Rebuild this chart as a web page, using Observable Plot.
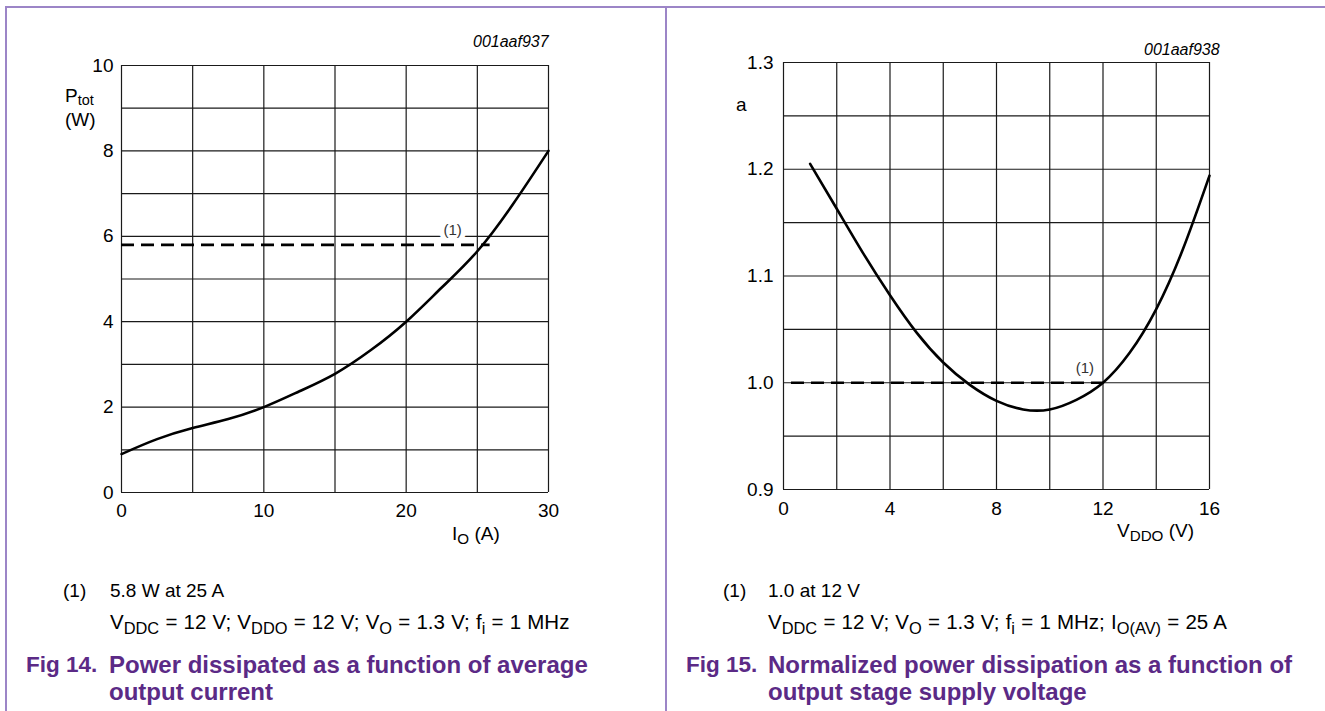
<!DOCTYPE html>
<html>
<head>
<meta charset="utf-8">
<script src="https://cdn.jsdelivr.net/npm/d3@7"></script>
<script src="https://cdn.jsdelivr.net/npm/@observablehq/plot@0.6"></script>
<style>
  body { margin: 0; background: #fff; font-family: "Liberation Sans", Arial, sans-serif; }
  #page { position: relative; width: 1325px; height: 711px; overflow: hidden; background: #fff; }
  .rule { position: absolute; background: #9c85c7; }
  .panel { position: absolute; top: 0; }
  .t { position: absolute; white-space: nowrap; color: #000; line-height: 1; }
  .t sub { font-size: 0.8em; position: relative; top: 0.3em; vertical-align: baseline; line-height: 1; }
  .t.tight sub { top: 0.22em; font-size: 0.76em; }
  .code { font-style: italic; font-size: 16px; }
  .fig { color: #5b2a86; font-weight: bold; font-size: 24px; }
  .fig.num { font-size: 22.5px; }
  .cond { word-spacing: 0.5px; }
</style>
</head>
<body>
<div id="page">
  <div class="rule" style="left:5px;top:6px;width:1320px;height:2px"></div>
  <div class="rule" style="left:5px;top:6px;width:2px;height:705px"></div>
  <div class="rule" style="left:665px;top:6px;width:2px;height:705px"></div>
  <div id="left" class="panel" style="left:0px"></div>
  <div id="right" class="panel" style="left:665px"></div>
</div>
<script>
// Fig 14: total power dissipation P_tot (W) versus average output current I_O (A)
const ioAmps    = [0, 2.5, 5, 7.5, 10, 12.5, 15, 17.5, 20, 22.5, 25, 27.5, 30];
const ptotWatts = [0.9, 1.25, 1.51, 1.72, 2.0, 2.37, 2.78, 3.33, 4.0, 4.8, 5.65, 6.75, 8.0];
const ioTickLabels   = [0, 10, 20, 30];
const ptotTickLabels = [0, 2, 4, 6, 8, 10];
const ioGrid   = [0, 5, 10, 15, 20, 25, 30];
const ptotGrid = [0, 1, 2, 3, 4, 5, 6, 7, 8, 9, 10];
// note (1): 5.8 W at 25 A
const ptotRef = 5.8;
const ptotRefSpan = [0, 25.9];
const ptotNote = {x: 23.26, y: 6.14, text: "(1)"};

// Fig 15: normalized power dissipation a versus output stage supply voltage V_DDO (V)
const vddoVolts = [1, 2, 3, 4, 5, 6, 7, 8, 9, 10, 11, 12, 13, 14, 15, 16];
const aNorm     = [1.205, 1.163, 1.121, 1.082, 1.047, 1.019, 0.998, 0.983, 0.975, 0.975, 0.984, 1.0, 1.028, 1.069, 1.125, 1.194];
const vddoTickLabels = [0, 4, 8, 12, 16];
const aTickLabels    = [0.9, 1.0, 1.1, 1.2, 1.3];
const vddoGrid = [0, 2, 4, 6, 8, 10, 12, 14, 16];
const aGrid    = [0.9, 0.95, 1.0, 1.05, 1.1, 1.15, 1.2, 1.25, 1.3];
// note (1): 1.0 at 12 V
const aRef = 1.0;
const aRefSpan = [0.3, 12];
const aNote = {x: 11.32, y: 1.0138, text: "(1)"};

const gridStyle = {stroke: "#1a1a1a", strokeWidth: 1.2};

function chart({xs, ys, xDomain, yDomain, xTicks, yTicks, xGrid, yGrid, yFormat, ref, refSpan, note,
                marginLeft, marginRight, marginTop, marginBottom, width, xPad, yPad}) {
  const pts = xs.map((x, i) => ({x, y: ys[i]}));
  return Plot.plot({
    width, height: 560,
    marginLeft, marginRight, marginTop, marginBottom,
    x: {domain: xDomain, label: null},
    y: {domain: yDomain, label: null},
    style: {fontFamily: "'Liberation Sans', Arial, sans-serif", fontSize: "19px", color: "#000", background: "transparent", overflow: "visible"},
    marks: [
      Plot.ruleX(xGrid, gridStyle),
      Plot.ruleY(yGrid, gridStyle),
      Plot.axisX({ticks: xTicks, tickSize: 0, tickPadding: xPad, label: null, tickFormat: d => String(d), fontSize: 19}),
      Plot.axisY({ticks: yTicks, tickSize: 0, tickPadding: yPad, label: null, tickFormat: yFormat, fontSize: 19}),
      Plot.ruleY([ref], {x1: refSpan[0], x2: refSpan[1], stroke: "#000", strokeWidth: 2.6, strokeDasharray: "13,7"}),
      Plot.line(pts, {x: "x", y: "y", curve: "natural", stroke: "#000", strokeWidth: 2.6}),
      Plot.text([note], {x: "x", y: "y", text: "text", fontSize: 15, fill: "#333", stroke: "white", strokeWidth: 10, paintOrder: "stroke"})
    ]
  });
}

document.getElementById("left").append(chart({
  xs: ioAmps, ys: ptotWatts, xDomain: [0, 30], yDomain: [0, 10],
  xTicks: ioTickLabels, yTicks: ptotTickLabels, xGrid: ioGrid, yGrid: ptotGrid,
  yFormat: d => String(d), ref: ptotRef, refSpan: ptotRefSpan, note: ptotNote,
  width: 665, marginLeft: 121, marginRight: 117, marginTop: 65, marginBottom: 68, xPad: 11, yPad: 8
}));

document.getElementById("right").append(chart({
  xs: vddoVolts, ys: aNorm, xDomain: [0, 16], yDomain: [0.9, 1.3],
  xTicks: vddoTickLabels, yTicks: aTickLabels, xGrid: vddoGrid, yGrid: aGrid,
  yFormat: d3.format(".1f"), ref: aRef, refSpan: aRefSpan, note: aNote,
  width: 660, marginLeft: 118, marginRight: 116, marginTop: 62, marginBottom: 71, xPad: 12, yPad: 10
}));

// text labels, notes and figure titles
const labels = [
  {x: 549, y: 42, align: "right", cls: "code", html: "001aaf937"},
  {x: 1220, y: 50, align: "right", cls: "code", html: "001aaf938"},
  {x: 65, y: 95, cls: "tight", html: "P<sub>tot</sub>", size: 19},
  {x: 65, y: 119, html: "(W)", size: 19},
  {x: 452, y: 533, html: "I<sub>O</sub> (A)", size: 19},
  {x: 736, y: 104, html: "a", size: 19},
  {x: 1117, y: 530, html: "V<sub>DDO</sub> (V)", size: 19},
  {x: 63, y: 590, html: "(1)", size: 19},
  {x: 110, y: 590, html: "5.8 W at 25 A", size: 19},
  {x: 110, y: 622, cls: "cond", html: "V<sub>DDC</sub> = 12 V; V<sub>DDO</sub> = 12 V; V<sub>O</sub> = 1.3 V; f<sub>i</sub> = 1 MHz", size: 20.5},
  {x: 723, y: 590, html: "(1)", size: 19},
  {x: 768, y: 590, html: "1.0 at 12 V", size: 19},
  {x: 768, y: 622, cls: "cond", html: "V<sub>DDC</sub> = 12 V; V<sub>O</sub> = 1.3 V; f<sub>i</sub> = 1 MHz; I<sub>O(AV)</sub> = 25 A", size: 20.5},
  {x: 26, y: 665, cls: "fig num", html: "Fig 14."},
  {x: 109, y: 665, cls: "fig", html: "Power dissipated as a function of average"},
  {x: 109, y: 692, cls: "fig", html: "output current"},
  {x: 686, y: 665, cls: "fig num", html: "Fig 15."},
  {x: 768, y: 665, cls: "fig", html: "Normalized power dissipation as a function of"},
  {x: 768, y: 692, cls: "fig", html: "output stage supply voltage"}
];
const page = document.getElementById("page");
for (const l of labels) {
  const el = document.createElement("div");
  el.className = "t " + (l.cls || "");
  el.innerHTML = l.html;
  if (l.size) el.style.fontSize = l.size + "px";
  page.append(el);
  const fs = parseFloat(getComputedStyle(el).fontSize);
  el.style.top = (l.y - 0.49 * fs) + "px";
  if (l.align === "right") el.style.left = (l.x - el.offsetWidth) + "px";
  else el.style.left = l.x + "px";
}
</script>
</body>
</html>
